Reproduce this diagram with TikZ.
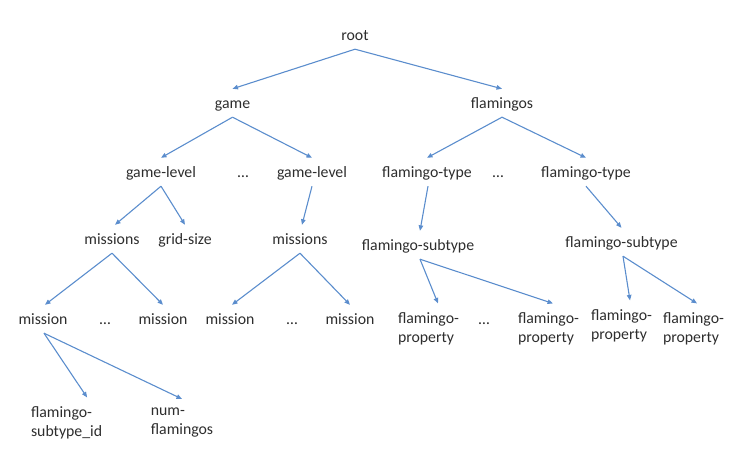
\documentclass[tikz,border=0pt]{standalone}
\usepackage{fontspec}
\setmainfont{Carlito}
\usetikzlibrary{arrows.meta}
\definecolor{arr}{RGB}{91,141,205}
\definecolor{txt}{RGB}{45,45,45}
\begin{document}
\begin{tikzpicture}[x=1pt,y=-1pt,
  lbl/.style={font=\fontsize{15.8}{19.5}\selectfont, text=txt, inner xsep=0pt, inner ysep=7.5pt, text height=12pt, text depth=1pt},
  lbltwo/.style={font=\fontsize{15.8}{19.5}\selectfont, text=txt, inner xsep=0pt, inner ysep=7.5pt, align=left},
  conn/.style={draw=arr, line width=1.1pt, -{Triangle[length=5.5pt,width=4.5pt]}}]
\useasboundingbox (0,0) rectangle (747,454);
% level 0-1
\node[lbl] (root) at (355,35) {root};
\node[lbl] (game) at (232.5,103) {game};
\node[lbl] (flam) at (502,103) {flamingos};
% level 2
\node[lbl] (gl1) at (161,172) {game-level};
\node[lbl] (d1) at (243,172) {\dots};
\node[lbl] (gl2) at (312,172) {game-level};
\node[lbl] (ft1) at (427,172) {flamingo-type};
\node[lbl] (d2) at (498,172) {\dots};
\node[lbl] (ft2) at (586,172) {flamingo-type};
% level 3
\node[lbl] (ms1) at (112,239) {missions};
\node[lbl] (gs) at (185,239) {grid-size};
\node[lbl] (ms2) at (300,239) {missions};
\node[lbl] (fs1) at (418,245) {flamingo-subtype};
\node[lbl] (fs2) at (621.5,242) {flamingo-subtype};
% level 4
\node[lbl] (m1) at (43,319) {mission};
\node[lbl] (d3) at (105,319) {\dots};
\node[lbl] (m2) at (163,319) {mission};
\node[lbl] (m3) at (230,319) {mission};
\node[lbl] (d4) at (292,319) {\dots};
\node[lbl] (m4) at (350,319) {mission};
\node[lbltwo] (p1) at (428.5,328.6) {flamingo-\\property};
\node[lbl] (d5) at (484,319) {\dots};
\node[lbltwo] (p2) at (548.5,328.6) {flamingo-\\property};
\node[lbltwo] (p3) at (621.5,325.6) {flamingo-\\property};
\node[lbltwo] (p4) at (693.5,328.6) {flamingo-\\property};
% level 5
\node[lbltwo] (sid) at (66.6,422.6) {flamingo-\\subtype\_id};
\node[lbltwo] (num) at (182,422.6) {num-\\flamingos};
% connectors
\draw[conn] (root.south) -- (game.north);
\draw[conn] (root.south) -- (flam.north);
\draw[conn] (game.south) -- (gl1.north);
\draw[conn] (game.south) -- (gl2.north);
\draw[conn] (flam.south) -- (ft1.north);
\draw[conn] (flam.south) -- (ft2.north);
\draw[conn] (gl1.south) -- ([xshift=3pt]ms1.north);
\draw[conn] (gl1.south) -- (gs.north);
\draw[conn] (gl2.south) -- ([xshift=2pt]ms2.north);
\draw[conn] ([xshift=1pt]ft1.south) -- ([xshift=2pt]fs1.north);
\draw[conn] (ft2.south) -- (fs2.north);
\draw[conn] (ms1.south) -- ([xshift=2pt]m1.north);
\draw[conn] (ms1.south) -- (m2.north);
\draw[conn] (ms2.south) -- ([xshift=2pt]m3.north);
\draw[conn] (ms2.south) -- (m4.north);
\draw[conn] ([xshift=2pt]fs1.south) -- ([xshift=9.5pt,yshift=1pt]p1.north);
\draw[conn] ([xshift=2pt]fs1.south) -- ([xshift=4.5pt,yshift=1pt]p2.north);
\draw[conn] ([xshift=1.5pt]fs2.south) -- ([xshift=8.5pt,yshift=1pt]p3.north);
\draw[conn] ([xshift=1.5pt]fs2.south) -- ([xshift=3.5pt,yshift=1pt]p4.north);
\draw[conn] ([xshift=1pt]m1.south) -- ([xshift=20.5pt,yshift=1pt]sid.north);
\draw[conn] ([xshift=1pt]m1.south) -- ([yshift=1pt]num.north);
\end{tikzpicture}
\end{document}
